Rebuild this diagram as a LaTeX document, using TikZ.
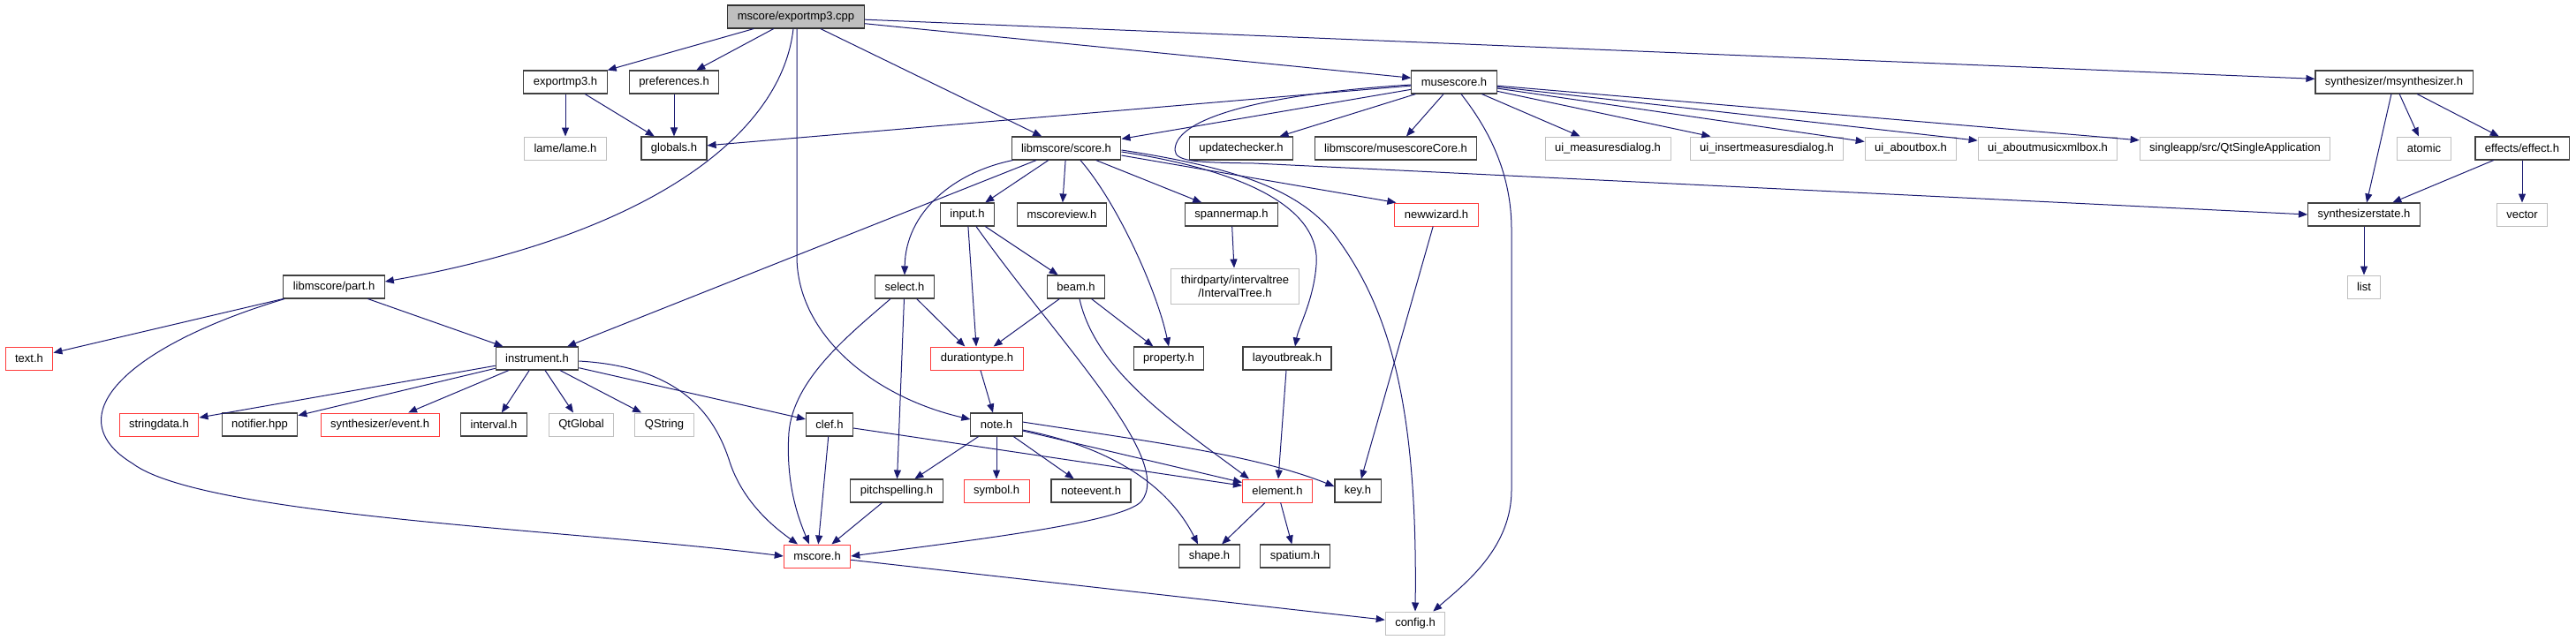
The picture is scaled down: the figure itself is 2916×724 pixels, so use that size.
\documentclass[tikz,border=0pt]{standalone}
\usepackage{fontspec}
\setmainfont{Liberation Sans}
\usepackage{xcolor}
\usepackage{tikz}
\usetikzlibrary{arrows.meta}
\definecolor{azulnoche}{HTML}{191970}
\definecolor{grisraiz}{HTML}{BFBFBF}
\definecolor{rojonodo}{HTML}{FF3B3B}
\tikzset{
  archivo/.style  = {rectangle, draw=black!75, line width=1.1pt, fill=white,
                     font=\fontsize{13}{15}\selectfont, text=black,
                     minimum height=26pt, inner xsep=11pt, inner ysep=0pt},
  raiz/.style     = {archivo, fill=grisraiz, draw=black!80},
  truncado/.style = {archivo, draw=rojonodo, line width=1pt},
  externo/.style  = {archivo, draw=grisraiz, line width=1pt},
  flecha/.style   = {-{Triangle[length=10pt,width=8pt]}, line width=1pt,
                     draw=azulnoche},
}

\begin{document}
\begin{tikzpicture}[x=1pt, y=-1pt]
    \useasboundingbox (0,0) rectangle (2916,724);

    % --- fichero raiz
    \node[raiz] (root) at (901,19) {mscore/exportmp3.cpp};

    % --- nivel 1
    \node[archivo] (exph) at (640,93) {exportmp3.h};
    \node[archivo] (prefh) at (763,93) {preferences.h};
    \node[archivo] (mush) at (1646,93) {musescore.h};
    \node[archivo] (msynth) at (2710,93) {synthesizer/msynthesizer.h};

    % --- nivel 2
    \node[externo] (lame) at (640,168) {lame/lame.h};
    \node[archivo] (glob) at (763,168) {globals.h};
    \node[archivo] (score) at (1207,168) {libmscore/score.h};
    \node[archivo] (updchk) at (1405,168) {updatechecker.h};
    \node[archivo] (mcore) at (1580,168) {libmscore/musescoreCore.h};
    \node[externo] (uimeas) at (1820,168) {ui\_measuresdialog.h};
    \node[externo] (uiins) at (2000,168) {ui\_insertmeasuresdialog.h};
    \node[externo] (uiabout) at (2163,168) {ui\_aboutbox.h};
    \node[externo] (uixml) at (2318,168) {ui\_aboutmusicxmlbox.h};
    \node[externo] (qtsingle) at (2530,168) {singleapp/src/QtSingleApplication};
    \node[externo] (atomic) at (2744,168) {atomic};
    \node[archivo] (effect) at (2855,168) {effects/effect.h};

    % --- nivel 3
    \node[archivo] (input) at (1095,243) {input.h};
    \node[archivo] (mview) at (1202,243) {mscoreview.h};
    \node[archivo] (spmap) at (1394,243) {spannermap.h};
    \node[truncado] (newwiz) at (1626,243) {newwizard.h};
    \node[archivo] (sstate) at (2676,243) {synthesizerstate.h};
    \node[externo] (vector) at (2855,243) {vector};

    % --- nivel 4
    \node[archivo] (parth) at (378,325) {libmscore/part.h};
    \node[archivo] (select) at (1024,325) {select.h};
    \node[archivo] (beam) at (1218,325) {beam.h};
    \node[externo, minimum height=40pt, align=center] (itree) at (1398,324)
      {thirdparty/intervaltree\\/IntervalTree.h};
    \node[externo] (list) at (2676,325) {list};

    % --- nivel 5
    \node[truncado] (text) at (33,406) {text.h};
    \node[archivo] (instr) at (608,406) {instrument.h};
    \node[truncado] (durt) at (1106,406) {durationtype.h};
    \node[archivo] (prop) at (1323,406) {property.h};
    \node[archivo] (lbreak) at (1457,406) {layoutbreak.h};

    % --- nivel 6
    \node[truncado] (strd) at (180,481) {stringdata.h};
    \node[archivo] (notif) at (294,481) {notifier.hpp};
    \node[truncado] (event) at (430,481) {synthesizer/event.h};
    \node[archivo] (interval) at (559,481) {interval.h};
    \node[externo] (qtglobal) at (658,481) {QtGlobal};
    \node[externo] (qstring) at (752,481) {QString};
    \node[archivo] (clef) at (939,481) {clef.h};
    \node[archivo] (note) at (1128,481) {note.h};

    % --- nivel 7
    \node[archivo] (pitch) at (1015,556) {pitchspelling.h};
    \node[truncado] (symbol) at (1128,556) {symbol.h};
    \node[archivo] (nevent) at (1235,556) {noteevent.h};
    \node[truncado] (element) at (1446,556) {element.h};
    \node[archivo] (key) at (1537,556) {key.h};

    % --- nivel 8 y 9
    \node[truncado] (mscore) at (925,630) {mscore.h};
    \node[archivo] (shape) at (1369,630) {shape.h};
    \node[archivo] (spatium) at (1466,630) {spatium.h};
    \node[externo] (config) at (1602,706) {config.h};

    % --- flechas desde la raiz
    \draw[flecha] (root) -- (exph);
    \draw[flecha] (root) -- (prefh);
    \draw[flecha] ([xshift=-3pt]root.south) .. controls (885,150) and (740,265) .. ([yshift=6pt]parth.east);
    \draw[flecha] ([xshift=1pt]root.south) -- (902,290) .. controls (902,380) and (990,450) .. ([yshift=6pt]note.west);
    \draw[flecha] (root) -- (score);
    \draw[flecha] (root) -- (mush);
    \draw[flecha] (root) -- (msynth);

    % --- exportmp3.h, preferences.h
    \draw[flecha] (exph) -- (lame);
    \draw[flecha] (exph) -- (glob);
    \draw[flecha] (prefh) -- (glob);

    % --- musescore.h
    \draw[flecha] (mush) -- (glob);
    \draw[flecha] (mush) -- (score);
    \draw[flecha] (mush) -- (updchk);
    \draw[flecha] (mush) -- (mcore);
    \draw[flecha] (mush) -- (uimeas);
    \draw[flecha] (mush) -- (uiins);
    \draw[flecha] (mush) -- (uiabout);
    \draw[flecha] (mush) -- (uixml);
    \draw[flecha] (mush) -- (qtsingle);
    \draw[flecha] ([xshift=8pt]mush.south) .. controls (1680,140) and (1711,190) .. (1711,260)
      -- (1711,555) .. controls (1711,620) and (1660,660) .. ([xshift=-14pt]config.north east);
    \draw[flecha] ([yshift=-3pt]mush.west) .. controls (1450,105) and (1330,130) .. (1330,170)
      .. controls (1330,184) and (1360,184) .. (1420,185) -- (sstate.west);

    % --- libmscore/score.h
    \draw[flecha] ([xshift=2pt]score.south west) .. controls (1080,195) and (1025,240) .. (select.north);
    \draw[flecha] (score) -- (instr);
    \draw[flecha] (score) -- (input);
    \draw[flecha] (score) -- (mview);
    \draw[flecha] ([xshift=16pt]score.south) .. controls (1265,230) and (1310,330) .. (prop.north);
    \draw[flecha] (score) -- (spmap);
    \draw[flecha] ([yshift=-8pt]score.east) -- ([xshift=2pt]newwiz.north west);
    \draw[flecha] ([yshift=-4pt]score.east) .. controls (1420,195) and (1495,240) .. (1490,300)
      .. controls (1487,340) and (1470,370) .. ([xshift=9pt]lbreak.north);
    \draw[flecha] ([yshift=-2pt]score.east) .. controls (1400,190) and (1470,215) .. (1510,265)
      .. controls (1570,345) and (1605,450) .. (config.north);

    % --- input.h, beam.h, select.h
    \draw[flecha] (input) -- (durt);
    \draw[flecha] (input) -- (beam);
    \draw[flecha] ([xshift=10pt]input.south) .. controls (1200,390) and (1330,520) .. (1292,568)
      .. controls (1270,592) and (1100,612) .. (mscore.east);
    \draw[flecha] (beam) -- (durt);
    \draw[flecha] (beam) -- (prop);
    \draw[flecha] ([xshift=4pt]beam.south) .. controls (1240,420) and (1330,480) .. ([xshift=8pt]element.north west);
    \draw[flecha] (select) -- (durt);
    \draw[flecha] (select) -- (pitch);
    \draw[flecha] ([xshift=-16pt]select.south) .. controls (960,380) and (898,430) .. (893,490)
      .. controls (889,550) and (905,590) .. ([xshift=-9pt]mscore.north);
    \draw[flecha] (durt) -- (note);
    \draw[flecha] (spmap) -- (itree);
    \draw[flecha] (newwiz) -- (key);
    \draw[flecha] (lbreak) -- (element);

    % --- libmscore/part.h, instrument.h
    \draw[flecha] (parth) -- (text);
    \draw[flecha] (parth) -- (instr);
    \draw[flecha] ([xshift=2pt]parth.south west) .. controls (150,390) and (60,470) .. (150,525)
      .. controls (230,585) and (650,600) .. (mscore.west);
    \draw[flecha] (instr) -- (strd);
    \draw[flecha] (instr) -- (notif);
    \draw[flecha] (instr) -- (event);
    \draw[flecha] (instr) -- (interval);
    \draw[flecha] (instr) -- (qtglobal);
    \draw[flecha] (instr) -- (qstring);
    \draw[flecha] (instr) -- (clef);
    \draw[flecha] ([yshift=-3pt]instr.east) .. controls (760,415) and (805,460) .. (825,520)
      .. controls (840,570) and (880,600) .. ([xshift=-22pt]mscore.north);

    % --- clef.h, note.h
    \draw[flecha] (clef) -- (mscore);
    \draw[flecha] (clef) -- (element);
    \draw[flecha] (note) -- (pitch);
    \draw[flecha] (note) -- (symbol);
    \draw[flecha] (note) -- (nevent);
    \draw[flecha] (note) -- (element);
    \draw[flecha] ([yshift=3pt]note.east) .. controls (1300,500) and (1420,515) .. ([yshift=5pt]key.west);
    \draw[flecha] ([yshift=-6pt]note.east) .. controls (1250,505) and (1320,545) .. ([xshift=-13pt]shape.north);

    % --- niveles bajos
    \draw[flecha] (pitch) -- (mscore);
    \draw[flecha] (element) -- (shape);
    \draw[flecha] (element) -- (spatium);
    \draw[flecha] (mscore) -- (config);

    % --- sintetizador
    \draw[flecha] (msynth) -- (sstate);
    \draw[flecha] (msynth) -- (atomic);
    \draw[flecha] (msynth) -- (effect);
    \draw[flecha] (effect) -- (sstate);
    \draw[flecha] (effect) -- (vector);
    \draw[flecha] (sstate) -- (list);
\end{tikzpicture}
\end{document}
